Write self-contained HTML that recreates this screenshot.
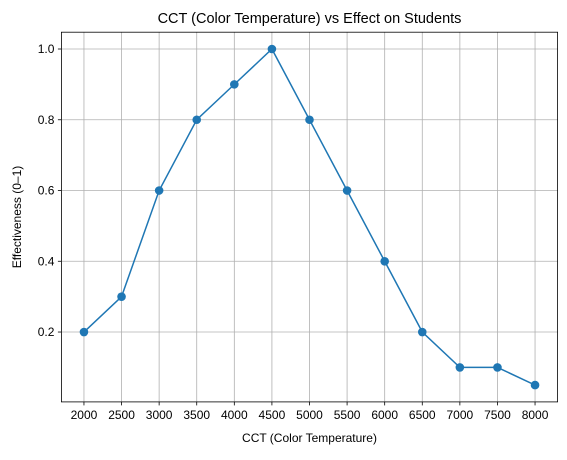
<!DOCTYPE html>
<html><head><meta charset="utf-8"><style>
body{margin:0;background:#fff;}
svg text{font-family:"Liberation Sans","DejaVu Sans",sans-serif;fill:#000;}
</style></head><body>
<svg id="chart" width="567" height="455" xmlns="http://www.w3.org/2000/svg">
<rect width="567" height="455" fill="#fff"/>
<g id="grid"></g>
<g id="axes"></g>
<g id="series"></g>
<text x="309.5" y="23" text-anchor="middle" font-size="14.5">CCT (Color Temperature) vs Effect on Students</text>
<text x="309.5" y="442" text-anchor="middle" font-size="12">CCT (Color Temperature)</text>
<text transform="translate(21,217) rotate(-90)" text-anchor="middle" font-size="12">Effectiveness (0–1)</text>
</svg>
<script>
const categories=[2000,2500,3000,3500,4000,4500,5000,5500,6000,6500,7000,7500,8000];
const values=[0.2,0.3,0.6,0.8,0.9,1.0,0.8,0.6,0.4,0.2,0.1,0.1,0.05];
const yTicks=[0.2,0.4,0.6,0.8,1.0];
const yTickLabels=["0.2","0.4","0.6","0.8","1.0"];

const L=61.4,R=557.6,T=32.2,B=401.9;
const xmin=1700,xmax=8300,ymin=0.0025,ymax=1.0475;
const xs=v=>L+(v-xmin)/(xmax-xmin)*(R-L);
const ys=v=>B-(v-ymin)/(ymax-ymin)*(B-T);
const NS="http://www.w3.org/2000/svg";
function mk(tag,attrs,parent){const e=document.createElementNS(NS,tag);for(const k in attrs)e.setAttribute(k,attrs[k]);parent.appendChild(e);return e;}
const grid=document.getElementById('grid'),axes=document.getElementById('axes'),ser=document.getElementById('series');
categories.forEach(c=>{
  const x=xs(c);
  const g=mk('line',{x1:x,x2:x,y1:T,y2:B,stroke:'#b0b0b0','stroke-width':0.8},grid);
  
  
  const t=mk('line',{x1:x,x2:x,y1:B,y2:B+3.5,stroke:'#000','stroke-width':0.8},axes);
  
  
  const l=mk('text',{x:x,y:B+17,'text-anchor':'middle','font-size':'12'},axes);
  l.textContent=c;
  
  
});
yTicks.forEach((v,i)=>{
  const y=ys(v);
  const g=mk('line',{x1:L,x2:R,y1:y,y2:y,stroke:'#b0b0b0','stroke-width':0.8},grid);
  
  
  const t=mk('line',{x1:L-3.5,x2:L,y1:y,y2:y,stroke:'#000','stroke-width':0.8},axes);
  
  
  const l=mk('text',{x:L-7,y:y+4.2,'text-anchor':'end','font-size':'12'},axes);
  l.textContent=yTickLabels[i];
  
  
});
const frame=mk('rect',{x:L,y:T,width:R-L,height:B-T,fill:'none',stroke:'#000','stroke-width':0.8},axes);


const pts=categories.map((c,i)=>xs(c)+','+ys(values[i])).join(' ');
const line=mk('polyline',{points:pts,fill:'none',stroke:'#1f77b4','stroke-width':1.5},ser);


categories.forEach((c,i)=>{
  const p=mk('circle',{cx:xs(c),cy:ys(values[i]),r:4.3,fill:'#1f77b4'},ser);
  
  
});
</script>
</body></html>
